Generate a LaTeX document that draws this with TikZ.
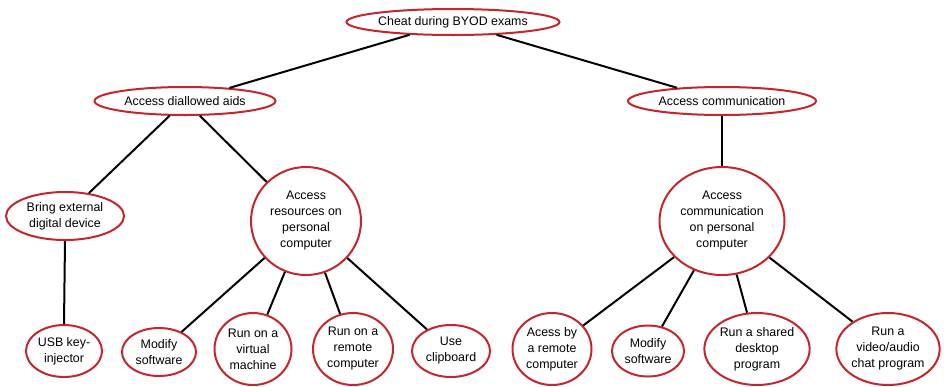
\documentclass[tikz,border=0pt]{standalone}
\usepackage{fontspec}
\setmainfont{Liberation Sans}
\usetikzlibrary{shapes.geometric}
\definecolor{elred}{HTML}{C4262B}
\tikzset{
  el/.style 2 args={ellipse, draw=elred, line width=1.5pt, fill=white,
    inner sep=0pt, align=center, text=black,
    font=\fontsize{9.3}{12}\selectfont,
    minimum width=#1*0.75pt, minimum height=#2*0.75pt},
  link/.style={draw=black, line width=1.5pt}
}
\begin{document}
\begin{tikzpicture}[x=0.75pt,y=-0.75pt]
\useasboundingbox (0,0) rectangle (944,386);
\node[el={213}{26}] (root) at (453,22) {Cheat during BYOD exams};
\node[el={181}{28}] (aids) at (185,101) {Access diallowed aids};
\node[el={188}{28}] (comm) at (722,101) {Access communication};
\node[el={118}{48}] (bring) at (65,216) {Bring external\\digital device};
\node[el={110}{108}] (res) at (306,221) {Access\\resources on\\personal\\computer};
\node[el={125}{108}] (comp) at (722,221) {Access\\communication\\on personal\\computer};
\node[el={76}{52}] (usb) at (64,351) {USB key-\\injector};
\node[el={74}{48}] (mod1) at (159,352) {Modify\\software};
\node[el={77}{72}] (virt) at (253,349) {Run on a\\virtual\\machine};
\node[el={80}{72}] (rem) at (353,349) {Run on a\\remote\\computer};
\node[el={78}{52}] (clip) at (451,351) {Use\\clipboard};
\node[el={79}{72}] (acess) at (552,349) {Acess by\\a remote\\computer};
\node[el={72}{51}] (mod2) at (648,351) {Modify\\software};
\node[el={103}{72}] (shared) at (757,349) {Run a shared\\desktop\\program};
\node[el={100}{72}] (video) at (888,349) {Run a\\video/audio\\chat program};
\draw[link] (root) -- (aids);
\draw[link] (root) -- (comm);
\draw[link] (aids) -- (bring);
\draw[link] (aids) -- (res);
\draw[link] (bring.south) -- (usb.north);
\draw[link] (res) -- (mod1);
\draw[link] (res) -- (virt);
\draw[link] (res) -- (rem);
\draw[link] (res) -- (clip);
\draw[link] (comm) -- (comp);
\draw[link] (comp) -- (acess);
\draw[link] (comp) -- (mod2);
\draw[link] (comp) -- (shared);
\draw[link] (comp) -- (video);
\end{tikzpicture}
\end{document}
